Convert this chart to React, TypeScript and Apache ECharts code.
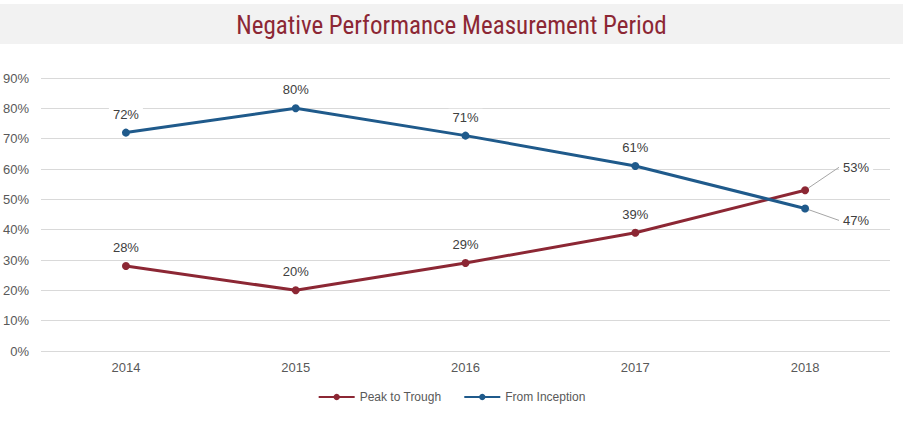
import React, { useEffect, useRef } from "react";
import * as echarts from "echarts";

const years = ["2014", "2015", "2016", "2017", "2018"];
const peakToTrough = [28, 20, 29, 39, 53];
const fromInception = [72, 80, 71, 61, 47];
const titleText = "Negative Performance Measurement Period";

const RED = "#8c2734";
const BLUE = "#1f5a8b";
const TXT = "#595959";
const FONT = "'Liberation Sans', Arial, sans-serif";

const labelBase = {
  show: true,
  position: "top",
  distance: 6,
  formatter: "{c}%",
  color: "#404040",
  fontSize: 13,
  backgroundColor: "#ffffff",
  padding: [2, 4],
};

function buildData(values: number[]) {
  return values.map((v, i) =>
    i === values.length - 1
      ? {
          value: v,
          label: { position: "right", distance: 5 },
          labelLine: { show: true, lineStyle: { color: "#a6a6a6", width: 1 } },
        }
      : { value: v }
  );
}

export default function App() {
  const ref = useRef<HTMLDivElement>(null);
  useEffect(() => {
    if (!ref.current) return;
    const chart = echarts.init(ref.current, undefined, { renderer: "svg" });
    const lastLayout = (dy: number) => (p: any) =>
      p.dataIndex === 4 ? { dx: 25, dy } : {};
    chart.setOption({
      animation: false,
      backgroundColor: "#ffffff",
      textStyle: { fontFamily: FONT },
      graphic: [
        {
          type: "rect",
          left: 0,
          top: 4,
          shape: { width: 903, height: 40 },
          style: { fill: "#f2f2f2" },
          silent: true,
        },
      ],
      title: {
        text: titleText,
        left: "center",
        top: 8,
        textStyle: {
          color: RED,
          fontSize: 25,
          fontWeight: "normal",
          fontFamily: "'Liberation Sans Narrow', 'Arial Narrow', 'Roboto Condensed', sans-serif",
        },
      },
      legend: {
        bottom: 22,
        left: "center",
        itemWidth: 36,
        itemHeight: 8,
        itemGap: 22,
        textStyle: { color: TXT, fontSize: 12, fontFamily: FONT },
        data: ["Peak to Trough", "From Inception"],
      },
      grid: { left: 41, right: 13, top: 78, bottom: 79 },
      xAxis: {
        type: "category",
        data: years,
        boundaryGap: true,
        axisLine: { show: false },
        axisTick: { show: false },
        axisLabel: { color: TXT, fontSize: 13, margin: 10 },
      },
      yAxis: {
        type: "value",
        min: 0,
        max: 90,
        interval: 10,
        axisLabel: { color: TXT, fontSize: 13, formatter: "{value}%", margin: 12 },
        splitLine: { lineStyle: { color: "#d9d9d9", width: 1 } },
        axisLine: { show: false },
        axisTick: { show: false },
      },
      series: [
        {
          name: "Peak to Trough",
          type: "line",
          data: buildData(peakToTrough),
          symbol: "circle",
          symbolSize: 8,
          lineStyle: { color: RED, width: 3 },
          itemStyle: { color: RED },
          z: 3,
          label: labelBase,
          labelLayout: lastLayout(-23),
          labelLine: { show: false },
        },
        {
          name: "From Inception",
          type: "line",
          data: buildData(fromInception),
          symbol: "circle",
          symbolSize: 8,
          lineStyle: { color: BLUE, width: 3 },
          itemStyle: { color: BLUE },
          z: 4,
          label: labelBase,
          labelLayout: lastLayout(12),
          labelLine: { show: false },
        },
      ],
    });
    return () => chart.dispose();
  }, []);
  return (
    <div
      ref={ref}
      style={{ position: "fixed", left: 0, top: 0, width: 903, height: 430 }}
    />
  );
}
